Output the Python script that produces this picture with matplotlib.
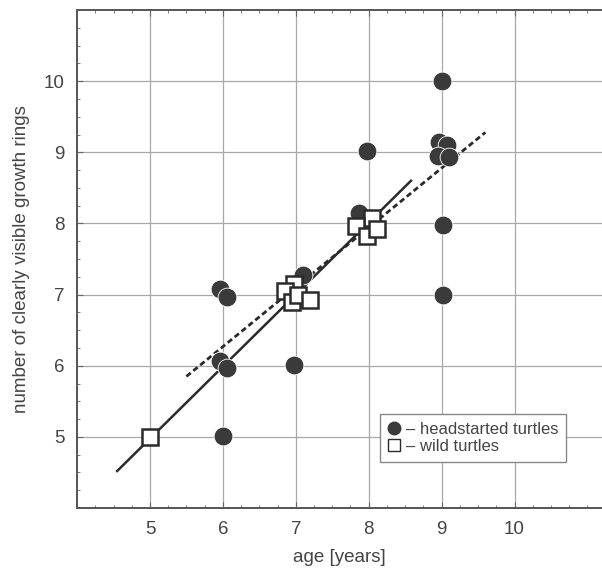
import matplotlib.pyplot as plt
from matplotlib.ticker import MultipleLocator
from matplotlib.lines import Line2D

plt.rcParams['font.family'] = ['Liberation Sans', 'DejaVu Sans']

# headstarted turtles (filled circles)
head_age = [9.0, 7.98, 8.97, 9.08, 8.95, 9.1, 7.87, 9.02, 7.1, 9.02,
            5.96, 6.05, 5.96, 6.06, 6.97, 6.0]
head_rings = [10.0, 9.02, 9.15, 9.1, 8.95, 8.93, 8.15, 7.98, 7.28, 7.0,
              7.08, 6.97, 6.07, 5.97, 6.01, 5.01]

# wild turtles (open squares)
wild_age = [5.0, 6.97, 6.85, 6.95, 7.03, 7.2, 8.05, 7.83, 7.97, 8.12]
wild_rings = [5.0, 7.15, 7.05, 6.9, 7.0, 6.92, 8.07, 7.96, 7.82, 7.92]

# regression line endpoints
wild_fit_x = [4.55, 8.58]
wild_fit_y = [4.52, 8.6]
head_fit_x = [5.5, 9.6]
head_fit_y = [5.85, 9.28]

dark = '#3a3a3a'
txt = '#444444'

fig = plt.figure(figsize=(6.02, 5.73), dpi=100)
ax = fig.add_axes([0.128, 0.1134, 0.872, 0.8691])

ax.grid(True, which='major', color='#a8a8a8', linewidth=0.9, linestyle='-')
ax.set_axisbelow(True)

ax.plot(wild_fit_x, wild_fit_y, color='#2a2a2a', linewidth=1.8, zorder=2)
ax.plot(head_fit_x, head_fit_y, color='#2a2a2a', linewidth=2.0,
        linestyle=(0, (2.0, 1.2)), zorder=2)

ax.plot(head_age, head_rings, 'o', color=dark, markersize=13.5,
        markeredgecolor='white', markeredgewidth=0.6, zorder=3)
ax.plot(wild_age, wild_rings, 's', markerfacecolor='white',
        markeredgecolor='#2a2a2a', markersize=12, markeredgewidth=1.8, zorder=4)

ax.set_xlim(4, 11.2)
ax.set_ylim(4, 11)
ax.set_xticks([5, 6, 7, 8, 9, 10])
ax.set_yticks([5, 6, 7, 8, 9, 10])
ax.xaxis.set_minor_locator(MultipleLocator(0.25))
ax.yaxis.set_minor_locator(MultipleLocator(0.25))
ax.tick_params(which='both', direction='in', top=True, right=False,
               colors='#666666', labelcolor=txt, labelsize=13.5, pad=9)
ax.tick_params(which='major', length=4, width=0.8)
ax.tick_params(which='minor', length=2.5, width=0.6)

for side in ['left', 'bottom', 'top']:
    ax.spines[side].set_color('#555555')
    ax.spines[side].set_linewidth(1.4)
ax.spines['right'].set_visible(False)

ax.set_xlabel('age [years]', fontsize=13.5, color=txt, labelpad=8)
ax.set_ylabel('number of clearly visible growth rings', fontsize=13.5,
              color=txt, labelpad=10)

handles = [
    Line2D([], [], marker='o', linestyle='', color=dark, markersize=9),
    Line2D([], [], marker='s', linestyle='', markerfacecolor='white',
           markeredgecolor='#2a2a2a', markersize=8.5, markeredgewidth=1.0),
]
leg = ax.legend(handles, ['– headstarted turtles', '– wild turtles'],
                loc='upper left', bbox_to_anchor=(8.15, 5.32),
                bbox_transform=ax.transData, fontsize=12, frameon=True,
                fancybox=False, framealpha=1, handlelength=0.8,
                handletextpad=0.35, borderpad=0.45, labelspacing=0.15,
                borderaxespad=0)
leg.get_frame().set_edgecolor('#888888')
leg.get_frame().set_linewidth(1.0)
for t in leg.get_texts():
    t.set_color(txt)

fig.savefig('out.png', dpi=100)
